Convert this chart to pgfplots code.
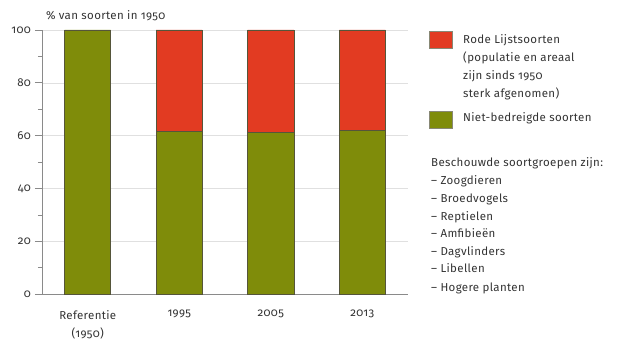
\documentclass[border=0pt]{standalone}
\usepackage{pgfplots}
\pgfplotsset{compat=1.18}
\usepackage{fontspec}
\setmainfont{Fira Sans}[Numbers=OldStyle, LetterSpace=3, RawFeature=+onum]
\definecolor{olive}{HTML}{7F8C0A}
\definecolor{rood}{HTML}{E23B22}
\definecolor{edge}{HTML}{55553A}
\definecolor{axgray}{HTML}{8A8A8A}
\definecolor{txt}{HTML}{333333}
\begin{document}
\fontsize{11.5}{18}\selectfont
\begin{tikzpicture}[x=1pt,y=1pt]
\useasboundingbox (-42,-49) rectangle (579,294);
\begin{axis}[
  at={(0,0)}, anchor=south west,
  scale only axis, width=366pt, height=264pt,
  ybar stacked, bar width=46pt,
  xmin=-0.5, xmax=3.5, ymin=0, ymax=100,
  xtick=data, xticklabels={{Referentie\\(1950)},1995,2005,2013},
  x tick label style={align=center, text=txt, yshift=-5pt},
  xtick style={draw=none},
  ytick={0,20,40,60,80,100},
  minor ytick={10,30,50,70,90},
  y tick label style={text=txt},
  tick align=outside,
  major tick length=7pt, minor tick length=4pt,
  ytick style={axgray, line width=0.6pt},
  minor tick style={axgray, line width=0.6pt},
  axis lines*=left,
  axis line style={axgray, line width=0.8pt},
  ymajorgrids, grid style={black!12, line width=0.5pt},
  /pgf/number format/assume math mode=true,
  every axis y label/.style={at={(axis description cs:0,1)}, anchor=south west, yshift=5pt},
  ylabel={\color{txt}\% van soorten in 1950},
  every axis plot/.append style={draw=edge, line width=0.5pt},
  clip=false,
]
\addplot[fill=olive, draw=edge] coordinates {(0,100) (1,61.5) (2,61.3) (3,62.0)};
\addplot[fill=rood, draw=edge] coordinates {(0,0) (1,38.5) (2,38.7) (3,38.0)};
\end{axis}
% legend
\fill[rood, draw=edge!70, line width=0.3pt] (387,246) rectangle (410,263);
\node[anchor=base west, inner sep=0, text=txt] at (421,250) {Rode Lijstsoorten};
\node[anchor=base west, inner sep=0, text=txt] at (421,232) {(populatie en areaal};
\node[anchor=base west, inner sep=0, text=txt] at (421,214) {zijn sinds 1950};
\node[anchor=base west, inner sep=0, text=txt] at (421,196) {sterk afgenomen)};
\fill[olive, draw=edge!70, line width=0.3pt] (387,166) rectangle (410,183);
\node[anchor=base west, inner sep=0, text=txt] at (421,172) {Niet-bedreigde soorten};
\node[anchor=base west, inner sep=0, text=txt] at (389,128) {Beschouwde soortgroepen zijn:};
\node[anchor=base west, inner sep=0, text=txt] at (389,110) {– Zoogdieren};
\node[anchor=base west, inner sep=0, text=txt] at (389,92) {– Broedvogels};
\node[anchor=base west, inner sep=0, text=txt] at (389,74) {– Reptielen};
\node[anchor=base west, inner sep=0, text=txt] at (389,56.5) {– Amfibieën};
\node[anchor=base west, inner sep=0, text=txt] at (389,39) {– Dagvlinders};
\node[anchor=base west, inner sep=0, text=txt] at (389,22) {– Libellen};
\node[anchor=base west, inner sep=0, text=txt] at (389,3) {– Hogere planten};
\end{tikzpicture}
\end{document}
